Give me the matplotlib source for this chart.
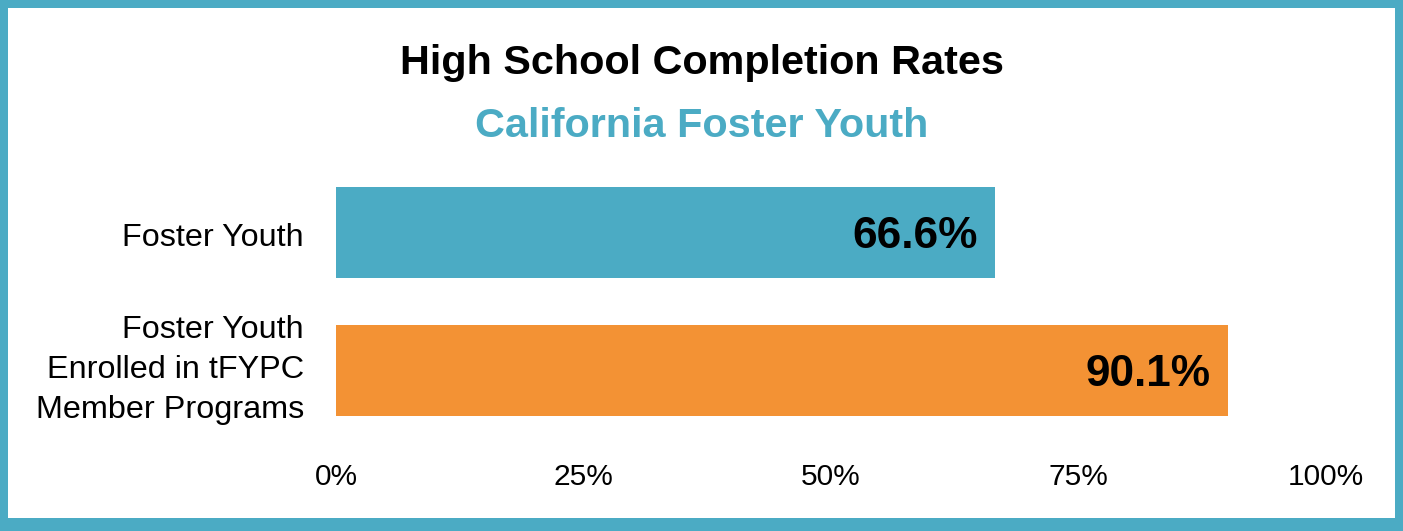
import matplotlib.pyplot as plt
from matplotlib.patches import Rectangle

categories = ["Foster Youth", "Foster Youth\nEnrolled in tFYPC\nMember Programs"]
rates = [66.6, 90.1]
bar_colors = ["#4BABC4", "#F39234"]
tick_values = [0, 25, 50, 75, 100]
tick_labels = ["0%", "25%", "50%", "75%", "100%"]

W, H = 1403, 531
TEAL = "#4BABC4"

plt.rcParams["font.family"] = ["Liberation Sans", "DejaVu Sans"]

fig = plt.figure(figsize=(W / 100, H / 100), dpi=100, facecolor=TEAL)
# white panel inside the teal frame
fig.patches.append(Rectangle((8 / W, 13 / H), (1395 - 8) / W, (518 - 8) / H,
                             transform=fig.transFigure, facecolor="white",
                             edgecolor="none", zorder=-10))

ax = fig.add_axes([336 / W, 1 - 439.5 / H, (1326 - 336) / W, 276 / H])
ax.set_facecolor("none")

y = list(range(len(categories)))
bars = ax.barh(y, rates, height=0.66, color=bar_colors)
ax.set_xlim(0, 100)
ax.set_ylim(1.5, -0.5)

# category labels drawn by hand so the multi-line one can sit like the original
ax.set_yticks([])
label_nudge = [-5, 0.5]
for yi, cat, dy in zip(y, categories, label_nudge):
    ax.annotate(cat, xy=(0, yi), xycoords=("axes fraction", "data"),
                xytext=(-32, dy), textcoords="offset pixels",
                ha="right", va="center", multialignment="right",
                fontsize=23.3, linespacing=1.445, color="black")

ax.set_xticks(tick_values)
ax.set_xticklabels(tick_labels, fontsize=21.5)
ax.tick_params(axis="x", length=0, pad=17)
for s in ax.spines.values():
    s.set_visible(False)

for rect, v in zip(bars, rates):
    ax.text(v - 1.8, rect.get_y() + rect.get_height() / 2, f"{v:.1f}%",
            ha="right", va="center_baseline", fontsize=31.8,
            fontweight="bold", color="black")

fig.text(0.5, 1 - 74 / H, "High School Completion Rates", ha="center",
         va="baseline", fontsize=29.8, fontweight="bold", color="black")
fig.text(0.5, 1 - 137 / H, "California Foster Youth", ha="center",
         va="baseline", fontsize=29.8, fontweight="bold", color=TEAL)

plt.savefig("out.png", dpi=100, facecolor=TEAL)
